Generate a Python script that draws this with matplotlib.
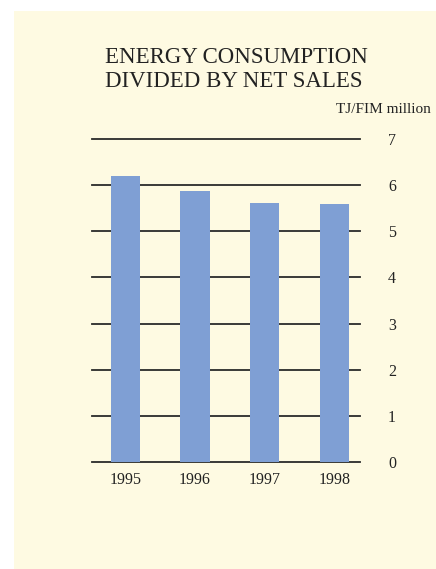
import matplotlib.pyplot as plt
from matplotlib.patches import Rectangle

years = ["1995", "1996", "1997", "1998"]
values = [6.20, 5.87, 5.61, 5.59]
yticks = [0, 1, 2, 3, 4, 5, 6, 7]

W, H = 436, 569
fig = plt.figure(figsize=(W / 100, H / 100), dpi=100)
fig.patch.set_facecolor("white")

cream = "#FEFAE2"
bg = Rectangle((14 / W, 0), 1 - 14 / W, 1 - 11 / H,
               transform=fig.transFigure, facecolor=cream,
               edgecolor="none", zorder=-10)
fig.add_artist(bg)

serif = ["Liberation Serif", "DejaVu Serif"]
ink = "#222222"

# axes in pixel coordinates: x 92..360, y 139 (7) .. 462 (0)
x0, x1, ytop, ybot = 92, 360, 139, 462
ax = fig.add_axes([x0 / W, 1 - ybot / H, (x1 - x0) / W, (ybot - ytop) / H])
ax.set_facecolor("none")
xs = list(range(len(years)))
ax.bar(xs, values, width=0.42, color="#7F9FD4", zorder=2)
ax.set_xlim(-0.48, 3.37)
ax.set_ylim(0, 7)
for t in yticks:
    ax.axhline(t, color="#2a2a2a", lw=1.3, zorder=1, clip_on=False)
for s in ax.spines.values():
    s.set_visible(False)
ax.set_xticks(xs)
ax.set_xticklabels(years, fontfamily=serif, fontsize=11.5, color=ink)
ax.tick_params(axis="x", length=0, pad=7)
ax.yaxis.tick_right()
ax.set_yticks(yticks)
ax.set_yticklabels([str(t) for t in yticks], fontfamily=serif, fontsize=11.5,
                   color=ink, ha="center")
ax.tick_params(axis="y", length=0, pad=23)

fig.text(105 / W, 1 - 63 / H, "ENERGY CONSUMPTION",
         fontfamily=serif, fontsize=16.5, color=ink, va="baseline", ha="left")
fig.text(105 / W, 1 - 87 / H, "DIVIDED BY NET SALES",
         fontfamily=serif, fontsize=16.5, color=ink, va="baseline", ha="left")
fig.text(431 / W, 1 - 113 / H, "TJ/FIM million", fontfamily=serif, fontsize=11,
         color=ink, va="baseline", ha="right")

fig.savefig("out.png", dpi=100, facecolor=fig.get_facecolor())
